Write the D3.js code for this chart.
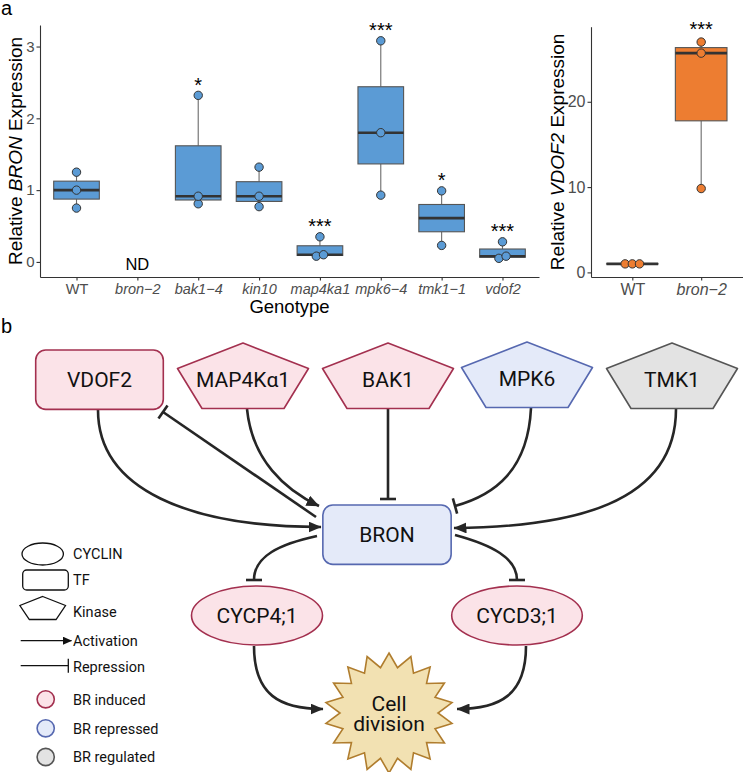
<!DOCTYPE html>
<html><head><meta charset="utf-8">
<script src="https://cdn.jsdelivr.net/npm/d3@7/dist/d3.min.js"></script>
<style>body{margin:0;background:#fff}svg{display:block}</style>
</head><body>
<svg id="c" width="743" height="772"></svg>
<script>
// ---------------- DATA ----------------
// Panel a (left): relative BRON expression
const genotypes = ["WT", "bron\u22122", "bak1\u22124", "kin10", "map4ka1", "mpk6\u22124", "tmk1\u22121", "vdof2"];
const bronValues = [
  [0.75, 1.00, 1.25],
  [],
  [0.81, 0.915, 2.32],
  [0.77, 0.915, 1.32],
  [0.08, 0.10, 0.35],
  [0.93, 1.80, 3.08],
  [0.23, 0.99],
  [0.05, 0.08, 0.28]
];
const bronSig = ["", "", "*", "", "***", "***", "*", "***"];
const bronNotDetected = ["", "ND", "", "", "", "", "", ""];
const bronTicks = [0, 1, 2, 3];

// Panel a (right): relative VDOF2 expression
const vdofGroups = ["WT", "bron\u22122"];
const vdofValues = [
  [1.0, 1.0, 1.0],
  [9.83, 25.7, 27.0]
];
const vdofSig = ["", "***"];
const vdofTicks = [0, 10, 20];

// Panel b: network
const nodeIds    = ["VDOF2", "MAP4K\u03b11", "BAK1", "MPK6", "TMK1", "BRON", "CYCP4;1", "CYCD3;1", "Cell division"];
const nodeShapes = ["tf", "kinase", "kinase", "kinase", "kinase", "tf", "cyclin", "cyclin", "star"];
const nodeClass  = ["induced", "induced", "induced", "repressed", "regulated", "repressed", "induced", "induced", "process"];
const edgeList = [
  ["VDOF2", "BRON", "act"],
  ["BRON", "VDOF2", "rep"],
  ["MAP4K\u03b11", "BRON", "act"],
  ["BAK1", "BRON", "rep"],
  ["MPK6", "BRON", "rep"],
  ["TMK1", "BRON", "act"],
  ["BRON", "CYCP4;1", "rep"],
  ["BRON", "CYCD3;1", "rep"],
  ["CYCP4;1", "Cell division", "act"],
  ["CYCD3;1", "Cell division", "act"]
];
const legendShapes = ["CYCLIN", "TF", "Kinase"];
const legendEdges = ["Activation", "Repression"];
const legendClasses = [["induced", "BR induced"], ["repressed", "BR repressed"], ["regulated", "BR regulated"]];

// ---------------- STYLE / LAYOUT ----------------
const FONT = "'Liberation Sans', Arial, Helvetica, sans-serif";
const BFONT = "Roboto, 'Liberation Sans', Arial, sans-serif";
const BLUE = "#5B9BD5", ORANGE = "#ED7D31";
const palette = {
  induced:   {fill: "#FBE3E8", stroke: "#A3304F"},
  repressed: {fill: "#E4EAF9", stroke: "#5668B0"},
  regulated: {fill: "#E3E3E3", stroke: "#555555"},
  process:   {fill: "#F2E1B2", stroke: "#B07D2E"}
};
const EDGE = "#262626";

const svg = d3.select("#c");

// panel letters
svg.append("text").attr("x", 1).attr("y", 15).attr("font-family", FONT).attr("font-size", 20).text("a");
svg.append("text").attr("x", 1).attr("y", 333).attr("font-family", FONT).attr("font-size", 20).text("b");

function styleAxis(g, fs) {
  g.select(".domain").attr("stroke", "#333").attr("stroke-width", 1.1);
  g.selectAll(".tick line").attr("stroke", "#333").attr("stroke-width", 1.1);
  g.selectAll(".tick text").attr("fill", "#4D4D4D").attr("font-size", fs).attr("font-family", FONT);
}

function drawBoxes(g, cats, vals, x, y, halfW, color) {
  cats.forEach((c, i) => {
    const v = vals[i].slice().sort(d3.ascending);
    if (!v.length) return;
    const cx = x(c);
    const q1 = d3.quantile(v, 0.25), med = d3.quantile(v, 0.5), q3 = d3.quantile(v, 0.75);
    const iqr = q3 - q1;
    const lo = d3.min(v.filter(d => d >= q1 - 1.5 * iqr));
    const hi = d3.max(v.filter(d => d <= q3 + 1.5 * iqr));
    g.append("line").attr("x1", cx).attr("x2", cx).attr("y1", y(q3)).attr("y2", y(hi))
      .attr("stroke", "#6b6b6b").attr("stroke-width", 1.1);
    g.append("line").attr("x1", cx).attr("x2", cx).attr("y1", y(q1)).attr("y2", y(lo))
      .attr("stroke", "#6b6b6b").attr("stroke-width", 1.1);
    g.append("rect").attr("x", cx - halfW).attr("width", 2 * halfW)
      .attr("y", y(q3)).attr("height", Math.max(0.01, y(q1) - y(q3)))
      .attr("fill", color).attr("stroke", "#555").attr("stroke-width", 1.1);
    g.append("line").attr("x1", cx - halfW).attr("x2", cx + halfW).attr("y1", y(med)).attr("y2", y(med))
      .attr("stroke", "#333").attr("stroke-width", 2.6);
    // simple beeswarm offsets for overlapping points
    const py = v.map(d => y(d)).sort((a, b) => b - a);
    const groups = [];
    py.forEach(p => {
      const last = groups[groups.length - 1];
      if (last && Math.abs(last[last.length - 1] - p) < 7) last.push(p); else groups.push([p]);
    });
    groups.forEach(gr => {
      gr.forEach((p, k) => {
        const off = (k - (gr.length - 1) / 2) * 7.2;
        g.append("circle").attr("cx", cx + off).attr("cy", p).attr("r", 4.2)
          .attr("fill", color).attr("stroke", "#333").attr("stroke-width", 1);
      });
    });
  });
}

// ---------------- PANEL a LEFT ----------------
{
  const P = {x0: 40, x1: 539, y0: 25, y1: 277};
  const x = d3.scalePoint().domain(genotypes).range([P.x0, P.x1]).padding(0.6);
  const y = d3.scaleLinear().domain([-0.21, 3.3]).range([P.y1, P.y0]);
  const g = svg.append("g");
  const gx = g.append("g").attr("transform", `translate(0,${P.y1})`)
    .call(d3.axisBottom(x).tickSize(3.5).tickSizeOuter(0));
  styleAxis(gx, 14.5);
  gx.selectAll(".tick text").attr("font-style", d => d === "WT" ? "normal" : "italic");
  const gy = g.append("g").attr("transform", `translate(${P.x0},0)`)
    .call(d3.axisLeft(y).tickValues(bronTicks).tickFormat(d3.format("d")).tickSize(3.5).tickSizeOuter(0).tickPadding(2));
  styleAxis(gy, 15);
  const halfW = x.step() * 0.375;
  drawBoxes(g, genotypes, bronValues, x, y, halfW, BLUE);
  genotypes.forEach((c, i) => {
    if (bronSig[i]) {
      const m = d3.max(bronValues[i]);
      g.append("text").attr("x", x(c)).attr("y", y(m) - 15 + 11.5).attr("text-anchor", "middle")
        .attr("font-family", FONT).attr("font-size", 20).text(bronSig[i]);
    }
    if (bronNotDetected[i]) {
      g.append("text").attr("x", x(c)).attr("y", y(0) + 8).attr("text-anchor", "middle")
        .attr("font-family", FONT).attr("font-size", 16.5).text(bronNotDetected[i]);
    }
  });
  const t = g.append("text").attr("transform", `translate(22,${(P.y0 + P.y1) / 2}) rotate(-90)`)
    .attr("text-anchor", "middle").attr("font-family", FONT).attr("font-size", 19);
  t.append("tspan").text("Relative ");
  t.append("tspan").attr("font-style", "italic").text("BRON");
  t.append("tspan").text(" Expression");
  g.append("text").attr("x", (P.x0 + P.x1) / 2).attr("y", 313).attr("text-anchor", "middle")
    .attr("font-family", FONT).attr("font-size", 18.5).text("Genotype");
}

// ---------------- PANEL a RIGHT ----------------
{
  const P = {x0: 591, x1: 742.5, y0: 26.7, y1: 277};
  const x = d3.scalePoint().domain(vdofGroups).range([P.x0, P.x1]).padding(0.6);
  const y = d3.scaleLinear().domain([-0.54, 28.8]).range([P.y1, P.y0]);
  const g = svg.append("g");
  const gx = g.append("g").attr("transform", `translate(0,${P.y1})`)
    .call(d3.axisBottom(x).tickSize(3.5).tickSizeOuter(0));
  styleAxis(gx, 16);
  gx.selectAll(".tick text").attr("font-style", d => d === "WT" ? "normal" : "italic");
  const gy = g.append("g").attr("transform", `translate(${P.x0},0)`)
    .call(d3.axisLeft(y).tickValues(vdofTicks).tickFormat(d3.format("d")).tickSize(3.5).tickSizeOuter(0).tickPadding(2));
  styleAxis(gy, 16);
  const halfW = x.step() * 0.375;
  drawBoxes(g, vdofGroups, vdofValues, x, y, halfW, ORANGE);
  vdofGroups.forEach((c, i) => {
    if (vdofSig[i]) {
      const m = d3.max(vdofValues[i]);
      g.append("text").attr("x", x(c)).attr("y", y(m) - 18 + 11.5).attr("text-anchor", "middle")
        .attr("font-family", FONT).attr("font-size", 20).text(vdofSig[i]);
    }
  });
  const t = g.append("text").attr("transform", `translate(564,${(P.y0 + P.y1) / 2}) rotate(-90)`)
    .attr("text-anchor", "middle").attr("font-family", FONT).attr("font-size", 19);
  t.append("tspan").text("Relative ");
  t.append("tspan").attr("font-style", "italic").text("VDOF2");
  t.append("tspan").text(" Expression");
}

// ---------------- PANEL b ----------------
const defs = svg.append("defs");
defs.append("marker").attr("id", "arr").attr("viewBox", "0 0 13 11").attr("refX", 12.5).attr("refY", 5.5)
  .attr("markerWidth", 13).attr("markerHeight", 11).attr("markerUnits", "userSpaceOnUse").attr("orient", "auto")
  .append("path").attr("d", "M0,0 L13,5.5 L0,11 Z").attr("fill", EDGE);
defs.append("marker").attr("id", "bar").attr("viewBox", "-2 -9 4 18").attr("refX", 0).attr("refY", 0)
  .attr("markerWidth", 4).attr("markerHeight", 18).attr("markerUnits", "userSpaceOnUse").attr("orient", "auto")
  .append("path").attr("d", "M0,-8 L0,8").attr("stroke", EDGE).attr("stroke-width", 2.6);
defs.append("marker").attr("id", "arrS").attr("viewBox", "0 0 9 8").attr("refX", 8.5).attr("refY", 4)
  .attr("markerWidth", 9).attr("markerHeight", 8).attr("markerUnits", "userSpaceOnUse").attr("orient", "auto")
  .append("path").attr("d", "M0,0 L9,4 L0,8 Z").attr("fill", "#111");
defs.append("marker").attr("id", "barS").attr("viewBox", "-2 -8 4 16").attr("refX", 0).attr("refY", 0)
  .attr("markerWidth", 4).attr("markerHeight", 16).attr("markerUnits", "userSpaceOnUse").attr("orient", "auto")
  .append("path").attr("d", "M0,-7 L0,7").attr("stroke", "#111").attr("stroke-width", 1.3);

const layout = {
  "VDOF2":        {cx: 99.5, cy: 379.7, w: 127.6, h: 59.3},
  "MAP4K\u03b11": {cx: 243, top: 343},
  "BAK1":         {cx: 388, top: 343},
  "MPK6":         {cx: 527, top: 342},
  "TMK1":         {cx: 672, top: 343},
  "BRON":         {cx: 387, cy: 534.7, w: 128.3, h: 59.3},
  "CYCP4;1":      {cx: 257, cy: 615.5, rx: 65.5, ry: 29.5},
  "CYCD3;1":      {cx: 517, cy: 615.5, rx: 65.3, ry: 29.5},
  "Cell division":{cx: 389, cy: 713}
};
const edgePaths = {
  "VDOF2>BRON":        "M98,410 C98,490 190,527 321,527",
  "BRON>VDOF2":        "M316,517 L163,412",
  "MAP4K\u03b11>BRON": "M247,409 C252,460 285,490 319,506",
  "BAK1>BRON":         "M388,409 L388,499",
  "MPK6>BRON":         "M531,408 C528,470 495,495 455,506",
  "TMK1>BRON":         "M676,409 C676,505 570,527 454,528",
  "BRON>CYCP4;1":      "M317,536 C280,544 254,556 254,580",
  "BRON>CYCD3;1":      "M455,535 C492,545 517,558 517,580",
  "CYCP4;1>Cell division": "M254,646 C254,695 280,709 323,709",
  "CYCD3;1>Cell division": "M526,646 C526,695 500,709 457,709"
};

function pentagonPts(cx, top, w, sh, h, bw) {
  return [[cx, top], [cx + w / 2, top + sh], [cx + bw / 2, top + h], [cx - bw / 2, top + h], [cx - w / 2, top + sh]];
}
function starPts(cx, cy, n, rxO, ryO, rxI, ryI) {
  const pts = [];
  for (let k = 0; k < 2 * n; k++) {
    const a = -Math.PI / 2 + k * Math.PI / n;
    const o = k % 2 === 0;
    pts.push([cx + (o ? rxO : rxI) * Math.cos(a), cy + (o ? ryO : ryI) * Math.sin(a)]);
  }
  return pts;
}
const line = d3.line();

const gb = svg.append("g");
// edges first (under nodes)
edgeList.forEach(([s, t, type]) => {
  gb.append("path").attr("d", edgePaths[s + ">" + t]).attr("fill", "none")
    .attr("stroke", EDGE).attr("stroke-width", 2.6)
    .attr("marker-end", type === "act" ? "url(#arr)" : "url(#bar)");
});
// nodes
nodeIds.forEach((id, i) => {
  const L = layout[id], col = palette[nodeClass[i]], shp = nodeShapes[i];
  let ty;
  if (shp === "tf") {
    gb.append("rect").attr("x", L.cx - L.w / 2).attr("y", L.cy - L.h / 2).attr("width", L.w).attr("height", L.h)
      .attr("rx", 10).attr("fill", col.fill).attr("stroke", col.stroke).attr("stroke-width", 1.6);
    ty = L.cy;
  } else if (shp === "kinase") {
    gb.append("path").attr("d", line(pentagonPts(L.cx, L.top, 131, 25.5, 65.5, 82)) + "Z")
      .attr("fill", col.fill).attr("stroke", col.stroke).attr("stroke-width", 1.6).attr("stroke-linejoin", "round");
    ty = L.top + 36;
  } else if (shp === "cyclin") {
    gb.append("ellipse").attr("cx", L.cx).attr("cy", L.cy).attr("rx", L.rx).attr("ry", L.ry)
      .attr("fill", col.fill).attr("stroke", col.stroke).attr("stroke-width", 1.6);
    ty = L.cy;
  } else {
    gb.append("path").attr("d", line(starPts(L.cx, L.cy, 18, 64, 60, 49, 46)) + "Z")
      .attr("fill", col.fill).attr("stroke", col.stroke).attr("stroke-width", 1.6).attr("stroke-linejoin", "miter");
    ty = L.cy;
  }
  const words = shp === "star" ? id.split(" ") : [id];
  const tx = gb.append("text").attr("text-anchor", "middle")
    .attr("font-family", BFONT).attr("font-size", 21).attr("fill", "#111");
  words.forEach((w, k) => {
    tx.append("tspan").attr("x", L.cx).attr("y", ty + (k - (words.length - 1) / 2) * 20)
      .attr("dy", "0.36em").text(w);
  });
});

// legend
const lg = svg.append("g");
const LX = 73;
const legRowsY = [554, 580, 611.5, 640.7, 667];
lg.append("ellipse").attr("cx", 42.7).attr("cy", 554).attr("rx", 20.7).attr("ry", 11)
  .attr("fill", "#fff").attr("stroke", "#111").attr("stroke-width", 1.3);
lg.append("rect").attr("x", 22.7).attr("y", 570).attr("width", 45.6).attr("height", 20).attr("rx", 4)
  .attr("fill", "#fff").attr("stroke", "#111").attr("stroke-width", 1.3);
lg.append("path").attr("d", line(pentagonPts(42.7, 596.5, 45.6, 9, 23, 26.7)) + "Z")
  .attr("fill", "#fff").attr("stroke", "#111").attr("stroke-width", 1.3);
lg.append("path").attr("d", "M20.7,640.7 L71.5,640.7").attr("stroke", "#111").attr("stroke-width", 1.3).attr("marker-end", "url(#arrS)");
lg.append("path").attr("d", "M20.7,665.7 L68.3,665.7").attr("stroke", "#111").attr("stroke-width", 1.3).attr("marker-end", "url(#barS)");
legendShapes.concat(legendEdges).forEach((txt, k) => {
  lg.append("text").attr("x", LX).attr("y", legRowsY[k]).attr("dy", "0.36em")
    .attr("font-family", BFONT).attr("font-size", 14.5).attr("fill", "#111").text(txt);
});
const circY = [699.3, 728.3, 757];
legendClasses.forEach(([cls, txt], k) => {
  lg.append("circle").attr("cx", 45.7).attr("cy", circY[k]).attr("r", 8.6)
    .attr("fill", palette[cls].fill).attr("stroke", palette[cls].stroke).attr("stroke-width", 1.6);
  lg.append("text").attr("x", LX).attr("y", circY[k]).attr("dy", "0.36em")
    .attr("font-family", BFONT).attr("font-size", 14.5).attr("fill", "#111").text(txt);
});
</script>
</body></html>
